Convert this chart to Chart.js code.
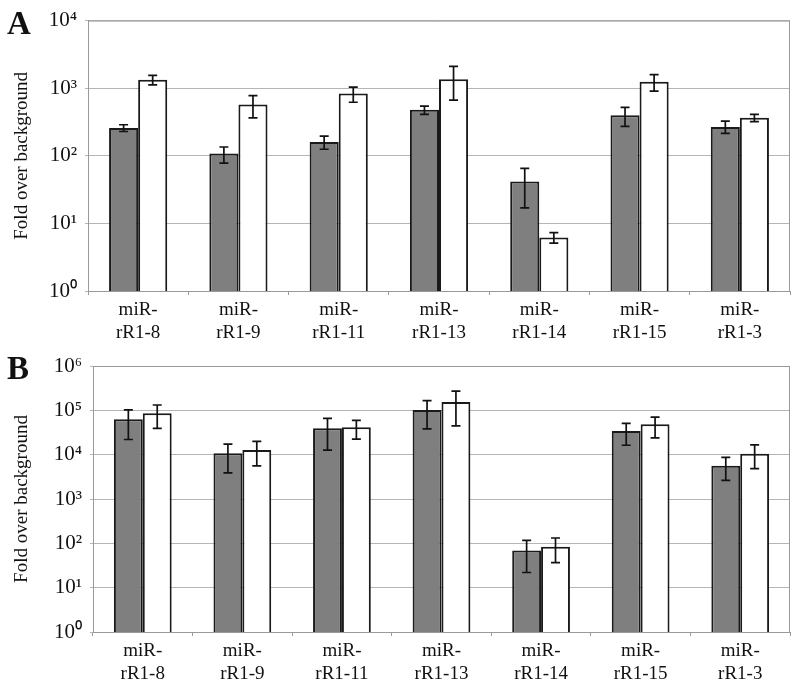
<!DOCTYPE html>
<html>
<head>
<meta charset="utf-8">
<script src="https://cdn.jsdelivr.net/npm/chart.js@4.4.0/dist/chart.umd.min.js"></script>
<style>
  body { margin: 0; background: #fff; }
  #wrap { position: relative; width: 800px; height: 699px; }
  canvas { position: absolute; left: 0; }
  .panel { position: absolute; left: 7px; font-family: 'Liberation Serif', serif; font-weight: bold; font-size: 33px; line-height: 1; color: #111; }
</style>
</head>
<body>
<div id="wrap">
  <canvas id="chartA" width="800" height="345" style="top:0"></canvas>
  <canvas id="chartB" width="800" height="354" style="top:345px"></canvas>
  <div class="panel" style="top:7px">A</div>
  <div class="panel" style="top:352px">B</div>
</div>
<script>
var labels = [
  ['miR-', 'rR1-8'], ['miR-', 'rR1-9'], ['miR-', 'rR1-11'], ['miR-', 'rR1-13'],
  ['miR-', 'rR1-14'], ['miR-', 'rR1-15'], ['miR-', 'rR1-3']
];

// panel A
var ticksA = [1, 10, 100, 1000, 10000];
var grayA    = [257, 108, 160, 480, 41.5, 397, 266];
var grayAHi  = [288, 135, 195, 543, 65, 520, 325];
var grayALo  = [229, 78, 125, 410, 17, 272, 214];
var whiteA   = [1333, 575, 837, 1360, 6.2, 1245, 366];
var whiteAHi = [1550, 776, 1035, 2100, 7.3, 1590, 410];
var whiteALo = [1120, 363, 620, 665, 5.1, 903, 320];

// panel B
var ticksB = [1, 10, 100, 1000, 10000, 100000, 1000000];
var grayB    = [63000, 10800, 39400, 102000, 69, 34300, 5640];
var grayBHi  = [102000, 17200, 66000, 165000, 117, 51000, 8700];
var grayBLo  = [22000, 3900, 12700, 38000, 22, 16300, 2640];
var whiteB   = [86000, 12700, 41500, 155000, 84, 48400, 10500];
var whiteBHi = [132000, 20000, 59600, 270000, 132, 70600, 16600];
var whiteBLo = [39000, 5560, 22500, 44500, 36.6, 24000, 4840];

var sup = { '0': '\u2070', '1': '\u00B9', '2': '\u00B2', '3': '\u00B3', '4': '\u2074', '5': '\u2075', '6': '\u2076' };
var serif = "'Liberation Serif', 'Times New Roman', serif";

var errorBars = {
  id: 'errorBars',
  afterDatasetsDraw: function(chart) {
    var ctx = chart.ctx;
    var y = chart.scales.y;
    ctx.save();
    ctx.strokeStyle = '#111';
    ctx.lineWidth = 1.7;
    chart.data.datasets.forEach(function(ds, i) {
      var meta = chart.getDatasetMeta(i);
      meta.data.forEach(function(bar, j) {
        var top = y.getPixelForValue(ds.errHi[j]);
        var bot = y.getPixelForValue(ds.errLo[j]);
        ctx.beginPath();
        ctx.moveTo(bar.x, top); ctx.lineTo(bar.x, bot);
        ctx.moveTo(bar.x - 4.5, top); ctx.lineTo(bar.x + 4.5, top);
        ctx.moveTo(bar.x - 4.5, bot); ctx.lineTo(bar.x + 4.5, bot);
        ctx.stroke();
      });
    });
    ctx.restore();
  },
  beforeDatasetsDraw: function(chart) {
    var a = chart.chartArea;
    var ctx = chart.ctx;
    ctx.save();
    ctx.strokeStyle = '#999';
    ctx.lineWidth = 1;
    ctx.strokeRect(a.left + 0.5, a.top + 0.5, a.right - a.left - 1, a.bottom - a.top);
    ctx.restore();
  }
};

function makeChart(id, tickVals, gray, grayHi, grayLo, white, whiteHi, whiteLo, pad, yWidth, xHeight) {
  return new Chart(document.getElementById(id).getContext('2d'), {
    type: 'bar',
    data: {
      labels: labels,
      datasets: [{
        data: gray, errHi: grayHi, errLo: grayLo,
        backgroundColor: '#7f7f7f', borderColor: '#1a1a1a', borderWidth: 2,
        categoryPercentage: 0.58, barPercentage: 1.0
      }, {
        data: white, errHi: whiteHi, errLo: whiteLo,
        backgroundColor: '#ffffff', borderColor: '#1a1a1a', borderWidth: 2,
        categoryPercentage: 0.58, barPercentage: 1.0
      }]
    },
    options: {
      responsive: false,
      animation: false,
      devicePixelRatio: 1,
      layout: { padding: pad },
      plugins: { legend: { display: false }, tooltip: { enabled: false } },
      scales: {
        x: {
          offset: true,
          grid: { display: true, drawOnChartArea: false, drawTicks: true, tickLength: 4, color: '#999' },
          border: { color: '#999' },
          ticks: { color: '#111', font: { family: serif, size: 19 }, padding: 4, maxRotation: 0 },
          afterFit: function(s) { s.height = xHeight; }
        },
        y: {
          type: 'logarithmic',
          min: tickVals[0],
          max: tickVals[tickVals.length - 1],
          afterBuildTicks: function(s) { s.ticks = tickVals.map(function(v) { return { value: v }; }); },
          grid: { color: '#b5b5b5', tickLength: 3 },
          border: { color: '#999' },
          ticks: {
            color: '#111', font: { family: serif, size: 21 }, padding: 8,
            callback: function(v) { return '10' + sup[String(Math.round(Math.log10(v)))]; }
          },
          title: { display: true, text: 'Fold over background', color: '#111', font: { family: serif, size: 19 }, padding: 0 },
          afterFit: function(s) { s.width = yWidth; }
        }
      }
    },
    plugins: [errorBars]
  });
}

makeChart('chartA', ticksA, grayA, grayAHi, grayALo, whiteA, whiteAHi, whiteALo,
  { left: 11, right: 10, top: 20, bottom: 0 }, 77, 54);
makeChart('chartB', ticksB, grayB, grayBHi, grayBLo, whiteB, whiteBHi, whiteBLo,
  { left: 11, right: 10, top: 21, bottom: 0 }, 82, 67);
</script>
</body>
</html>
